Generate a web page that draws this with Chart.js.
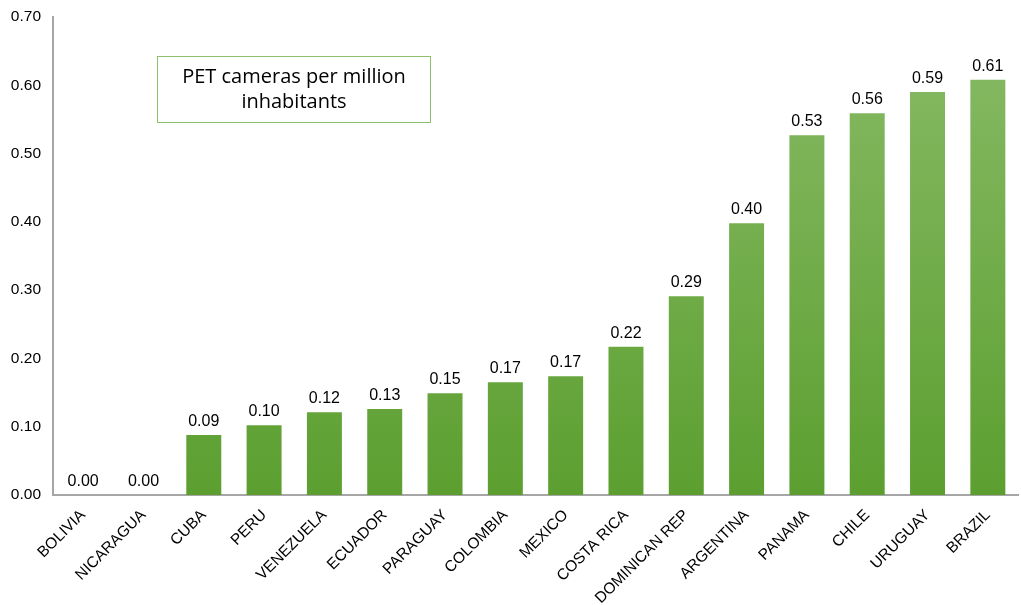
<!DOCTYPE html>
<html>
<head>
<meta charset="utf-8">
<script src="https://cdn.jsdelivr.net/npm/chart.js@4.4.1/dist/chart.umd.min.js"></script>
<style>
  html, body { margin: 0; padding: 0; background: #ffffff; }
  #wrap { position: relative; width: 1021px; height: 605px; }
  #box {
    position: absolute; left: 157px; top: 56px; width: 274px; height: 67px;
    border: 1px solid #8cc06a; box-sizing: border-box;
    font-family: "Open Sans", "Noto Sans", sans-serif; font-size: 20px; color: #000;
    text-align: center; line-height: 25px; padding-top: 6px;
  }
</style>
</head>
<body>
<div id="wrap">
  <canvas id="c" width="1021" height="605"></canvas>
  <div id="box">PET cameras per million<br>inhabitants</div>
</div>
<script>
const categories = ["BOLIVIA","NICARAGUA","CUBA","PERU","VENEZUELA","ECUADOR","PARAGUAY","COLOMBIA","MEXICO","COSTA RICA","DOMINICAN REP","ARGENTINA","PANAMA","CHILE","URUGUAY","BRAZIL"];
const petPerMillion = [0.0, 0.0, 0.088, 0.102, 0.121, 0.126, 0.149, 0.165, 0.174, 0.217, 0.291, 0.398, 0.527, 0.559, 0.590, 0.608];
const yTicksMax = 0.7;
const yTickStep = 0.1;

const labelPlugin = {
  id: 'valueLabels',
  afterDatasetsDraw(chart) {
    const ctx = chart.ctx;
    const meta = chart.getDatasetMeta(0);
    ctx.save();
    ctx.font = '16px "Liberation Sans", Arial, sans-serif';
    ctx.fillStyle = '#000';
    ctx.textAlign = 'center';
    ctx.textBaseline = 'alphabetic';
    meta.data.forEach((bar, i) => {
      ctx.fillText(petPerMillion[i].toFixed(2), bar.x, bar.y - 9);
    });
    ctx.restore();
  }
};

new Chart(document.getElementById('c'), {
  type: 'bar',
  data: {
    labels: categories,
    datasets: [{
      data: petPerMillion,
      backgroundColor(context) {
        const chart = context.chart;
        const area = chart.chartArea;
        if (!area) return '#72ae48';
        const g = chart.ctx.createLinearGradient(0, area.top, 0, area.bottom);
        g.addColorStop(0, '#89bb67');
        g.addColorStop(1, '#5c9f30');
        return g;
      },
      barPercentage: 0.58,
      categoryPercentage: 1.0
    }]
  },
  options: {
    responsive: false,
    animation: false,
    devicePixelRatio: 1,
    layout: { padding: { top: 17, right: 3, left: 0, bottom: 0 } },
    plugins: { legend: { display: false }, tooltip: { enabled: false } },
    scales: {
      x: {
        grid: { display: false },
        border: { display: true, color: '#a6a6a6', width: 2 },
        ticks: {
          color: '#000',
          font: { family: '"Liberation Sans", Arial, sans-serif', size: 15.5 },
          maxRotation: 45, minRotation: 45, autoSkip: false, padding: 3
        },
        afterFit(scale) { scale.height = 110; }
      },
      y: {
        min: 0, max: yTicksMax,
        grid: { display: false },
        border: { display: true, color: '#a6a6a6', width: 2 },
        ticks: {
          stepSize: yTickStep,
          color: '#000',
          padding: 4,
          font: { family: '"Liberation Sans", Arial, sans-serif', size: 15.5 },
          callback: v => Number(v).toFixed(2)
        },
        afterFit(scale) { scale.width = 53; }
      }
    }
  },
  plugins: [labelPlugin]
});
</script>
</body>
</html>
